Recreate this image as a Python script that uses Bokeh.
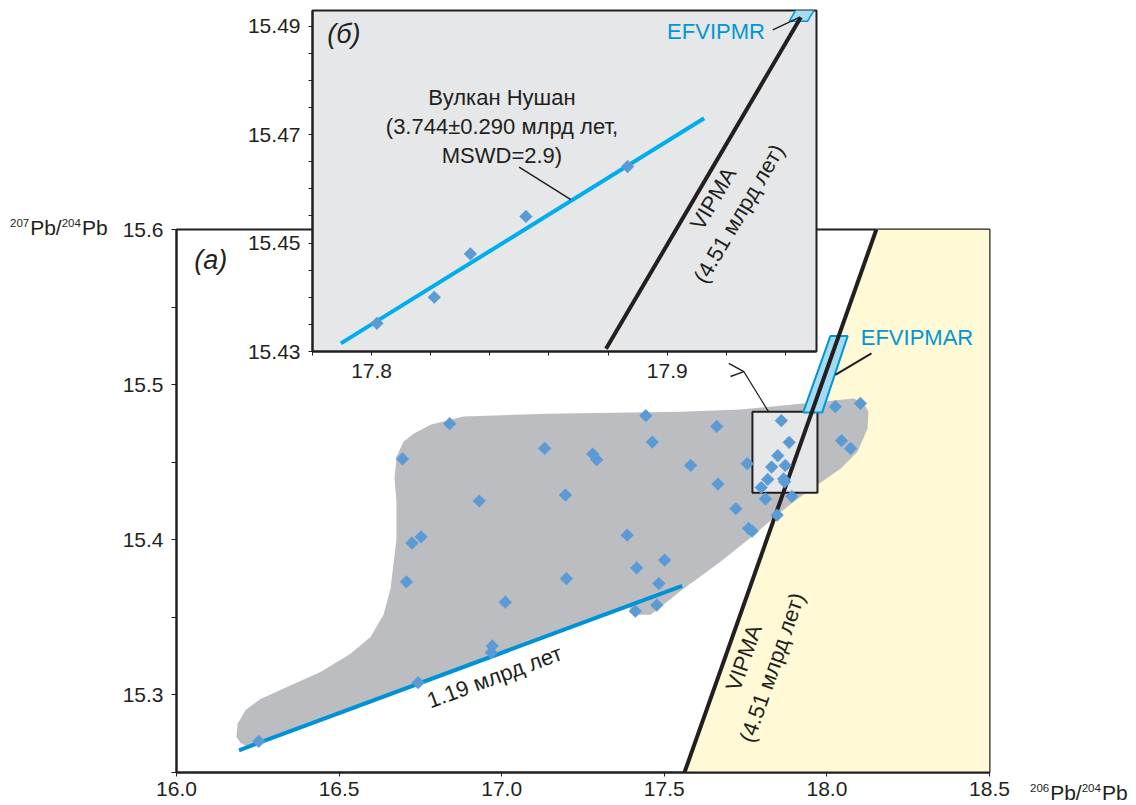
import math
from bokeh.plotting import figure
from bokeh.models import Range1d, FixedTicker, PrintfTickFormatter, Column, Div
from bokeh.core.properties import value
from bokeh.embed import file_html
from bokeh.resources import INLINE

FONT = "Liberation Sans"
INK = "#231F20"
PT_COLOR = "#5B9BD5"

# ---------------- data: panel (а) ----------------
x_ticks = [16.0, 16.5, 17.0, 17.5, 18.0, 18.5]
y_ticks = [15.3, 15.4, 15.5, 15.6]
y_minor = [15.25, 15.35, 15.45, 15.55]

pb206 = [16.840, 16.695, 17.132, 17.280, 17.292, 17.443, 17.463, 16.931, 17.196, 16.752,
         16.724, 16.707, 17.386, 17.501, 17.415, 17.199, 17.483, 17.011, 17.477, 17.411,
         17.661, 17.581, 17.665, 17.720, 17.759, 17.770, 17.755, 17.860, 17.884, 17.849,
         17.830, 17.872, 17.818, 17.867, 17.870, 17.798, 17.811, 17.892, 17.847, 18.026,
         18.103, 18.045, 18.073, 16.971, 16.968, 16.743, 16.253]
pb207 = [15.4748, 15.4521, 15.4589, 15.4553, 15.4516, 15.4800, 15.4630, 15.4250, 15.4288, 15.4019,
         15.3979, 15.3729, 15.4030, 15.3869, 15.3819, 15.3750, 15.3718, 15.3598, 15.3579, 15.3540,
         15.4731, 15.4479, 15.4359, 15.4200, 15.4073, 15.4056, 15.4490, 15.4768, 15.4628, 15.4542,
         15.4469, 15.4479, 15.4389, 15.4392, 15.4374, 15.4337, 15.4263, 15.4279, 15.4159, 15.4858,
         15.4879, 15.4639, 15.4589, 15.3316, 15.3273, 15.3079, 15.2701]

field_x = [16.197, 16.1845, 16.1876, 16.2122, 16.2583, 16.3413, 16.4428, 16.5351, 16.5966, 16.6365,
           16.6581, 16.6765, 16.6765, 16.6704, 16.6765, 16.6980, 16.7288, 16.7811, 16.8825, 17.1408,
           17.5498, 17.7343, 17.9188, 18.0203, 18.0818, 18.1125, 18.1279, 18.1248, 18.0941, 18.0418,
           17.9711, 17.8973, 17.8481, 17.8051, 17.7497, 17.6728, 17.5590, 17.4975, 17.4576, 17.4207,
           17.3991, 17.3899, 16.8000, 16.4000, 16.2200]
field_y = [15.2690, 15.2729, 15.2813, 15.2903, 15.2974, 15.3052, 15.3148, 15.3265, 15.3374, 15.3516,
           15.3684, 15.4006, 15.4245, 15.4394, 15.4535, 15.4632, 15.4684, 15.4742, 15.4794, 15.4813,
           15.4826, 15.4839, 15.4877, 15.4897, 15.4910, 15.4884, 15.4826, 15.4716, 15.4568, 15.4458,
           15.4355, 15.4245, 15.4161, 15.4084, 15.3987, 15.3858, 15.3684, 15.3581, 15.3516, 15.3516,
           15.3542, 15.3574, 15.3116, 15.2805, 15.2665]

vipma_x = [17.562, 18.152]
vipma_y = [15.25, 15.60]
iso_x = [16.192, 17.555]
iso_y = [15.2643, 15.3703]
efvipmar_x = [18.011, 18.064, 17.9855, 17.927]
efvipmar_y = [15.5314, 15.5314, 15.4821, 15.4821]
zoom_box = dict(left=17.771, right=17.971, bottom=15.4303, top=15.4826)

# ---------------- data: panel (б) ----------------
ix_major = [17.8, 17.9]
ix_minor = [17.78, 17.82, 17.84, 17.86, 17.88, 17.92, 17.94]
iy_major = [15.43, 15.45, 15.47, 15.49]
iy_minor = [15.435, 15.44, 15.445, 15.455, 15.46, 15.465, 15.475, 15.48, 15.485]

ins_206 = [17.8018, 17.8212, 17.8334, 17.8522, 17.8866]
ins_207 = [15.4352, 15.4400, 15.4480, 15.4549, 15.4641]
fit_x = [17.7896, 17.9125]
fit_y = [15.4315, 15.4730]
ins_vipma_x = [17.8793, 17.9452]
ins_vipma_y = [15.4305, 15.4916]
efvipmr_x = [17.9441, 17.9503, 17.9475, 17.9413]
efvipmr_y = [15.4935, 15.4935, 15.4909, 15.4909]

# ================= main figure =================
W, H = 1136, 805
BL, BR = 176, 147
p = figure(width=W, height=H, x_range=Range1d(16.0, 18.5), y_range=Range1d(15.25, 15.6),
           output_backend="svg", toolbar_location=None,
           min_border_left=BL, min_border_right=BR, min_border_top=229, min_border_bottom=33)
p.grid.visible = False
p.outline_line_color = INK
p.outline_line_width = 2
p.background_fill_color = "white"
p.border_fill_color = "white"

for ax in (p.xaxis[0], p.yaxis[0]):
    ax.axis_line_color = INK
    ax.axis_line_width = 2
    ax.major_tick_line_color = INK
    ax.minor_tick_line_color = INK
    ax.major_tick_in = 0
    ax.minor_tick_in = 0
    ax.major_label_text_font = FONT
    ax.major_label_text_font_size = "21px"
    ax.major_label_text_color = INK

p.xaxis.ticker = FixedTicker(ticks=x_ticks)
p.xaxis.formatter = PrintfTickFormatter(format="%.1f")
p.xaxis.major_tick_out = 4
p.xaxis.minor_tick_out = 0
p.xaxis.major_label_standoff = 5

p.yaxis.ticker = FixedTicker(ticks=y_ticks, minor_ticks=y_minor)
p.yaxis.formatter = PrintfTickFormatter(format="%.1f")
p.yaxis.major_tick_out = 5
p.yaxis.minor_tick_out = 5
p.yaxis.major_label_standoff = 8

x_end = p.x_range.end
y_end = p.y_range.end
y_start = p.y_range.start
# yellow area right of the geochron
p.patch(vipma_x + [x_end, x_end], vipma_y + [y_end, y_start],
        fill_color="#FFF9D6", line_color=None)
# grey data field
p.patch(field_x, field_y, fill_color="#BCBDC0", line_color=None)
# box showing inset area
p.quad(left=[zoom_box["left"]], right=[zoom_box["right"]], bottom=[zoom_box["bottom"]],
       top=[zoom_box["top"]], fill_color="#E6E7E8", line_color=INK, line_width=2)
# leader from inset
p.line([17.6983, 17.7445, 17.7036], [15.5137, 15.5084, 15.5052], line_color=INK, line_width=1.5)
p.line([17.7445, 17.8204], [15.5084, 15.4826], line_color=INK, line_width=1.2)
# 1.19 Ga line
p.line(iso_x, iso_y, line_color="#0092D6", line_width=4)
# EFVIPMAR parallelogram
p.patch(efvipmar_x, efvipmar_y, fill_color="#A3DBF5", line_color="#0096D6", line_width=2)
p.line([18.137, 18.026], [15.5202, 15.5063], line_color=INK, line_width=2)
# VIPMA geochron
p.line(vipma_x, vipma_y, line_color=INK, line_width=4)
# points
p.scatter(pb206, pb207, marker="square", angle=math.pi / 4, size=9,
          fill_color=PT_COLOR, line_color=PT_COLOR, line_width=0.5)

# texts inside the frame
p.text([16.105], [15.5806], text=["(а)"], text_font=value(FONT), text_font_size="27px",
       text_font_style="italic", text_align="center", text_baseline="middle", text_color=INK)
p.text([16.978], [15.3116], text=["1.19 млрд лет"], text_font=value(FONT), text_font_size="22px",
       angle=math.radians(20.3), text_align="center", text_baseline="middle", text_color=INK)
p.text([17.788], [15.3208], text=["VIPMA\n(4.51 млрд лет)"], text_font=value(FONT),
       text_font_size="22px", angle=math.radians(70.7), text_align="center",
       text_baseline="middle", text_color=INK, text_line_height=1.2)
p.text([18.277], [15.5303], text=["EFVIPMAR"], text_font=value(FONT), text_font_size="22px",
       text_align="center", text_baseline="middle", text_color="#0096D6")

# ================= inset figure =================
IW, IH = BL + 504 + BR, 391
q = figure(width=IW, height=IH, x_range=Range1d(17.780, 17.9505), y_range=Range1d(15.43, 15.49286),
           output_backend="svg", toolbar_location=None,
           min_border_left=BL, min_border_right=BR, min_border_top=10, min_border_bottom=40)
q.grid.visible = False
q.background_fill_color = "#E6E7E8"
q.border_fill_color = None
q.outline_line_color = INK
q.outline_line_width = 2
for ax in (q.xaxis[0], q.yaxis[0]):
    ax.axis_line_color = INK
    ax.axis_line_width = 2
    ax.major_tick_line_color = INK
    ax.minor_tick_line_color = INK
    ax.major_tick_in = 0
    ax.minor_tick_in = 0
    ax.major_tick_out = 4
    ax.minor_tick_out = 4
    ax.major_label_text_font = FONT
    ax.major_label_text_font_size = "21px"
    ax.major_label_text_color = INK
    ax.major_label_standoff = 8
q.xaxis.ticker = FixedTicker(ticks=ix_major, minor_ticks=ix_minor)
q.xaxis.formatter = PrintfTickFormatter(format="%.1f")
q.yaxis.ticker = FixedTicker(ticks=iy_major, minor_ticks=iy_minor)
q.yaxis.formatter = PrintfTickFormatter(format="%.2f")

q.line(fit_x, fit_y, line_color="#00AEEF", line_width=4)
q.line([17.8499, 17.8674], [15.4640, 15.4580], line_color=INK, line_width=1.5)
q.patch(efvipmr_x, efvipmr_y, fill_color="#A3DBF5", line_color="#0096D6", line_width=1.5)
q.line([17.9357, 17.9447], [15.4893, 15.4916], line_color=INK, line_width=1.5)
q.line(ins_vipma_x, ins_vipma_y, line_color=INK, line_width=4)
q.scatter(ins_206, ins_207, marker="square", angle=math.pi / 4, size=9,
          fill_color=PT_COLOR, line_color=PT_COLOR, line_width=0.5)

q.text([17.7906], [15.4886], text=["(б)"], text_font=value(FONT), text_font_size="27px",
       text_font_style="italic", text_align="center", text_baseline="middle", text_color=INK)
q.text([17.8441], [15.4715], text=["Вулкан Нушан\n(3.744±0.290 млрд лет,\nMSWD=2.9)"],
       text_font=value(FONT), text_font_size="22px", text_align="center", text_baseline="middle",
       text_color=INK, text_line_height=1.16)
q.text([17.9199], [15.4568], text=["VIPMA\n(4.51 млрд лет)"], text_font=value(FONT),
       text_font_size="22px", angle=math.radians(59.5), text_align="center",
       text_baseline="middle", text_color=INK, text_line_height=1.2)
q.text([17.9165], [15.4889], text=["EFVIPMR"], text_font=value(FONT), text_font_size="22px",
       text_align="center", text_baseline="middle", text_color="#0096D6")

# place inset over the main panel (frame left edge at 312 px)
q.margin = (-H, 0, H - IH, 312 - BL)

# ================= axis titles with superscripts =================
def pb_html(a, b):
    sup = "position:relative;top:-8px;font-size:11.5px;margin-right:1px"
    return (f'<div style="font-family:\'Liberation Sans\',Arial,sans-serif;font-size:21px;'
            f'line-height:24px;color:{INK};white-space:nowrap">'
            f'<span style="{sup}">{a}</span>Pb/<span style="{sup}">{b}</span>Pb</div>')

def overlay_div(html, left, top, w=104, h=24):
    return Div(text=html, width=w, height=h, margin=(top - H, 0, H - top - h, left))

ylab = overlay_div(pb_html("207", "204"), 10, 216)
xlab = overlay_div(pb_html("206", "204"), 1030, 781)

layout = Column(children=[p, q, ylab, xlab], spacing=0)
open("out.html", "w").write(file_html(layout, INLINE))
